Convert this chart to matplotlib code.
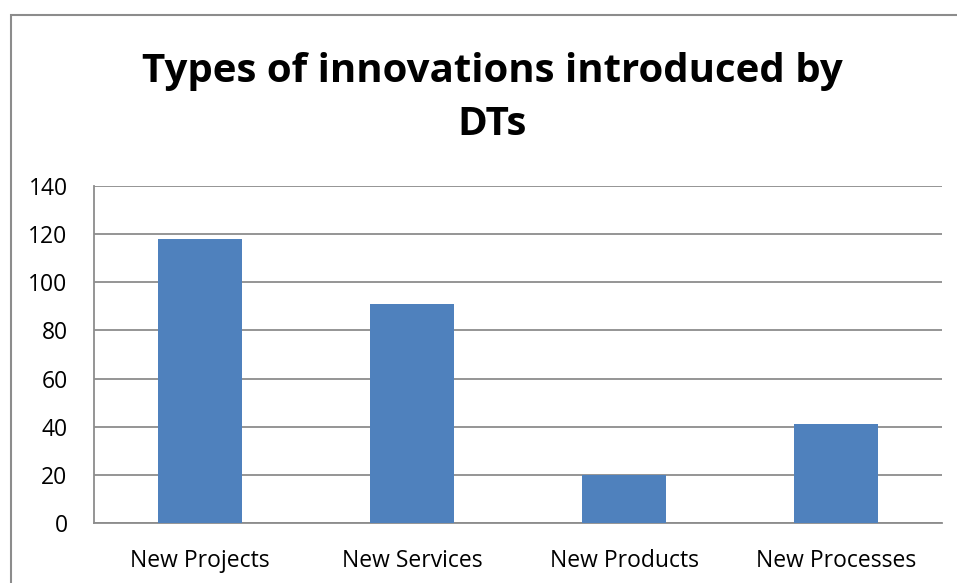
import matplotlib.pyplot as plt
from matplotlib.patches import Rectangle

# innovation counts per type
categories = ["New Projects", "New Services", "New Products", "New Processes"]
counts = [118, 91, 20, 41]
y_ticks = [0, 20, 40, 60, 80, 100, 120, 140]

plt.rcParams['font.family'] = ['Open Sans', 'DejaVu Sans']

fig = plt.figure(figsize=(9.57, 5.83), dpi=100)
ax = fig.add_axes([94 / 957, 60 / 583, 848 / 957, 337 / 583])

ax.bar(range(len(categories)), counts, width=0.4, color='#4F81BD', zorder=3)

ax.set_xlim(-0.5, len(categories) - 0.5)
ax.set_ylim(0, 140)
ax.set_yticks(y_ticks)
ax.set_xticks(range(len(categories)))
ax.set_xticklabels(categories)
ax.tick_params(axis='both', length=0, labelsize=16.5, colors='black')
ax.tick_params(axis='y', pad=19)
ax.tick_params(axis='x', pad=19)
ax.yaxis.grid(True, color='#8c8c8c', linewidth=1.3, zorder=0)

for side in ['top', 'right']:
    ax.spines[side].set_visible(False)
for side in ['left', 'bottom']:
    ax.spines[side].set_color('#8c8c8c')
    ax.spines[side].set_linewidth(1.3)

fig.text(0.514, 1 - 98 / 583, "Types of innovations introduced by\nDTs",
         ha='center', va='center', fontsize=29, fontweight='bold',
         linespacing=1.45)

# outer chart frame
fig.patches.append(Rectangle((11 / 957, -0.1), 1.0, 1 - 15 / 583 + 0.1,
                             transform=fig.transFigure, fill=False,
                             edgecolor='#8c8c8c', linewidth=1.5))

fig.savefig("out.png", dpi=100)
